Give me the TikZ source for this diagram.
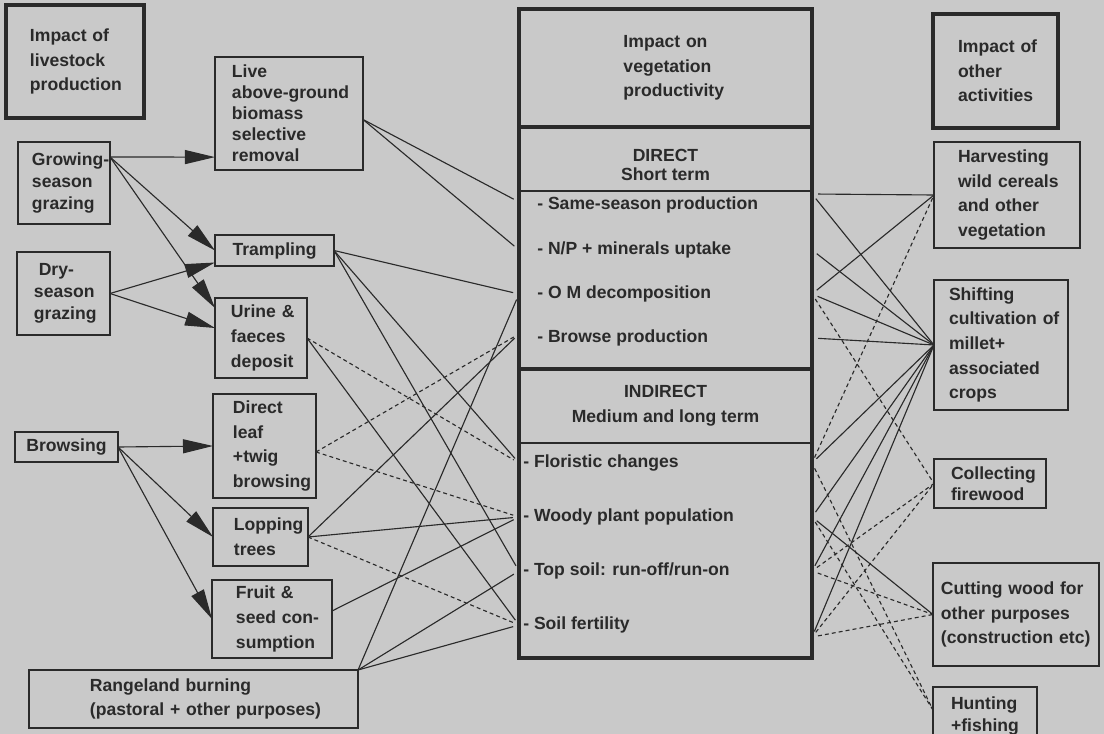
\documentclass[tikz,border=0pt]{standalone}
\usepackage{fontspec}
\setmainfont{Liberation Sans}
\usepackage{tikz}
\usepackage{xcolor}
\usetikzlibrary{arrows.meta}

\definecolor{paper}{RGB}{201,201,201}
\definecolor{ink}{RGB}{42,42,42}

\newcommand{\nobreaks}{\hyphenpenalty=10000\exhyphenpenalty=10000}

\begin{document}
\begin{tikzpicture}[x=0.025cm, y=-0.025cm,
    box/.style={draw=ink, line width=1.1pt, inner sep=0pt, outer sep=0pt, align=left, text=ink,
        font=\bfseries\fontsize{12.5}{17.5}\selectfont\nobreaks},
    heavybox/.style={box, line width=2.4pt},
    part/.style={inner sep=0pt, outer sep=0pt, text=ink, minimum width=7.325cm,
        font=\bfseries\fontsize{12.5}{17.5}\selectfont\nobreaks},
    item/.style={anchor=west, inner sep=0pt, text=ink, font=\bfseries\fontsize{12.5}{15}\selectfont},
    link/.style={draw=ink, line width=0.8pt},
    dlink/.style={link, dash pattern=on 2.8pt off 2.2pt},
    feed/.style={link, -{Triangle[length=7.5mm, width=3.5mm]}},
    tomid/.style={shorten >=1.5mm},
    frommid/.style={shorten <=1.5mm}
  ]
            \fill[paper, use as bounding box] (0,0) rectangle (1104,734);

            % livestock side
            \node[heavybox, minimum width=3.45cm, minimum height=2.825cm, text width=2.25cm] (livestock) at (75,61.5) {Impact~of\\livestock\\production};
            \node[box, minimum width=2.3cm, minimum height=2.05cm, text width=1.6cm, font=\bfseries\fontsize{12.5}{15.5}\selectfont\nobreaks] (growing) at (64,183) {Growing-\\season\\grazing};
            \node[box, minimum width=2.325cm, minimum height=2.075cm, text width=1.475cm, font=\bfseries\fontsize{12.5}{15.5}\selectfont\nobreaks] (dry) at (63.5,293.5) {\hspace*{0.12cm}Dry-\\season\\grazing};
            \node[box, minimum width=2.575cm, minimum height=0.75cm, align=center] (browsing) at (66.5,447) {Browsing};
            \node[box, minimum width=8.225cm, minimum height=1.45cm, text width=5.175cm] (burning) at (193.5,699) {Rangeland~burning\\(pastoral~+~other~purposes)};

            \node[box, minimum width=3.7cm, minimum height=2.825cm, text width=2.85cm, font=\bfseries\fontsize{12.5}{15}\selectfont\nobreaks] (live) at (289,113.5) {Live\\above-ground\\biomass\\selective\\removal};
            \node[box, minimum width=2.975cm, minimum height=0.775cm, align=center] (tramp) at (274.5,250.5) {Trampling};
            \node[box, minimum width=2.3cm, minimum height=2cm, text width=1.5cm] (urine) at (261,338) {Urine~\&\\faeces\\deposit};
            \node[box, minimum width=2.575cm, minimum height=2.6cm, text width=1.575cm] (leaf) at (264.5,446) {Direct\\leaf\\+twig\\browsing};
            \node[box, minimum width=2.375cm, minimum height=1.45cm, text width=1.325cm] (lopping) at (260.5,537) {Lopping\\trees};
            \node[box, minimum width=3cm, minimum height=1.95cm, text width=1.8cm] (fruit) at (272,619) {Fruit~\&\\seed~con-\\sumption};

            % vegetation productivity
            \node[heavybox, minimum width=7.325cm, minimum height=16.225cm] (veg) at (665.5,333.5) {};
            \node[part, minimum height=2.95cm, text width=2.1cm, align=left] (vhead) at (665.5,68) {Impact~on\\vegetation\\productivity};
            \node[part, minimum height=1.3cm, align=center, font=\bfseries\fontsize{12.5}{13}\selectfont] (vdirect) at (665.5,165) {DIRECT\\Short term};
            \node[part, minimum height=1.85cm, align=center] (vindirect) at (665.5,406) {INDIRECT\\Medium and long term};
            \draw[ink, line width=2.4pt] (vhead.south west) -- (vhead.south east);
            \draw[ink, line width=1.1pt] (vdirect.south west) -- (vdirect.south east);
            \draw[ink, line width=2.4pt] (vindirect.north west) -- (vindirect.north east);
            \draw[ink, line width=1.1pt] (vindirect.south west) -- (vindirect.south east);

            \node[item] (same) at (537,205) {- Same-season production};
            \node[item] (np) at (537,250) {- N/P + minerals uptake};
            \node[item] (om) at (537,294) {- O M decomposition};
            \node[item] (browse) at (537,338) {- Browse production};
            \node[item] (flor) at (523,463) {- Floristic changes};
            \node[item] (woody) at (523,517) {- Woody plant population};
            \node[item] (topsoil) at (523,571) {- Top soil: run-off/run-on};
            \node[item] (soil) at (523,625) {- Soil fertility};

            % other activities
            \node[heavybox, minimum width=3.125cm, minimum height=2.85cm, text width=1.875cm] (other) at (995.5,71) {Impact~of\\other\\activities};
            \node[box, minimum width=3.65cm, minimum height=2.65cm, text width=2.45cm] (harvest) at (1007,195) {Harvesting\\wild~cereals\\and~other\\vegetation};
            \node[box, minimum width=3.35cm, minimum height=3.25cm, text width=2.6cm] (shifting) at (1001,345) {Shifting\\cultivation~of\\millet+\\associated\\crops};
            \node[box, minimum width=2.8cm, minimum height=1.225cm, text width=1.95cm, font=\bfseries\fontsize{12.5}{15}\selectfont\nobreaks] (firewood) at (990,483.5) {Collecting\\firewood};
            \node[box, minimum width=4.15cm, minimum height=2.575cm, text width=3.75cm] (cutting) at (1016,614.5) {Cutting~wood~for\\other~purposes\\(construction~etc)};
            \node[box, minimum width=2.6cm, minimum height=1.45cm, text width=1.7cm, font=\bfseries\fontsize{12.5}{15}\selectfont\nobreaks] (hunting) at (985,716) {Hunting\\+fishing};

            % arrows
            \draw[feed] ([yshift=0.65cm]growing.east) -- ([yshift=-1.09cm]live.west);
            \draw[feed] ([yshift=0.65cm]growing.east) -- (tramp.west);
            \draw[feed] ([yshift=0.65cm]growing.east) -- ([yshift=0.75cm]urine.west);
            \draw[feed] (dry.east) -- ([yshift=-0.3cm]tramp.west);
            \draw[feed] (dry.east) -- ([yshift=0.25cm]urine.west);
            \draw[feed] (browsing.east) -- (leaf.west);
            \draw[feed] (browsing.east) -- (lopping.west);
            \draw[feed] (browsing.east) -- (fruit.west);

            % left links
            \draw[link, tomid] ([yshift=-0.15cm]live.east) -- ([yshift=0.075cm]veg.west |- same);
            \draw[link, tomid] ([yshift=-0.15cm]live.east) -- (veg.west |- np);
            \draw[link, tomid] (tramp.east) -- (veg.west |- om);
            \draw[link, tomid] (tramp.east) -- (veg.west |- flor);
            \draw[link, tomid] (tramp.east) -- (veg.west |- topsoil);
            \draw[dlink, tomid] (urine.east) -- (veg.west |- flor);
            \draw[link, tomid] (urine.east) -- (veg.west |- soil);
            \draw[dlink, tomid] ([yshift=-0.15cm]leaf.east) -- ([yshift=0.1cm]veg.west |- browse);
            \draw[dlink, tomid] ([yshift=-0.15cm]leaf.east) -- (veg.west |- woody);
            \draw[link, tomid] (lopping.east) -- ([yshift=0.1cm]veg.west |- browse);
            \draw[link, tomid] (lopping.east) -- (veg.west |- woody);
            \draw[dlink, tomid] (lopping.east) -- (veg.west |- soil);
            \draw[link, tomid] ([yshift=0.2cm]fruit.east) -- (veg.west |- woody);
            \draw[link, tomid] (burning.north east) -- (veg.west |- om);
            \draw[link, tomid] (burning.north east) -- (veg.west |- topsoil);
            \draw[link, tomid] (burning.north east) -- (veg.west |- soil);

            % right links
            \draw[link, frommid] ([yshift=0.275cm]veg.east |- same) -- (harvest.west);
            \draw[link, frommid] ([yshift=0.275cm]veg.east |- same) -- (shifting.west);
            \draw[link, frommid] (veg.east |- np) -- (shifting.west);
            \draw[link, frommid] (veg.east |- om) -- (harvest.west);
            \draw[link, frommid] (veg.east |- om) -- (shifting.west);
            \draw[dlink, frommid] (veg.east |- om) -- (firewood.west);
            \draw[link, frommid] (veg.east |- browse) -- (shifting.west);
            \draw[dlink, frommid] (veg.east |- flor) -- (harvest.west);
            \draw[link, frommid] (veg.east |- flor) -- (shifting.west);
            \draw[dlink, frommid] (veg.east |- flor) -- ([yshift=0.15cm]hunting.west);
            \draw[link, frommid] (veg.east |- woody) -- (shifting.west);
            \draw[link, frommid] (veg.east |- woody) -- (cutting.west);
            \draw[dlink, frommid] (veg.east |- woody) -- ([yshift=0.15cm]hunting.west);
            \draw[link, frommid] (veg.east |- topsoil) -- (shifting.west);
            \draw[dlink, frommid] (veg.east |- topsoil) -- (firewood.west);
            \draw[dlink, frommid] (veg.east |- topsoil) -- (cutting.west);
            \draw[link, frommid] ([yshift=-0.3cm]veg.east |- soil) -- (shifting.west);
            \draw[dlink, frommid] ([yshift=-0.3cm]veg.east |- soil) -- (firewood.west);
            \draw[dlink, frommid] ([yshift=-0.3cm]veg.east |- soil) -- (cutting.west);
        \end{tikzpicture}
\end{document}
